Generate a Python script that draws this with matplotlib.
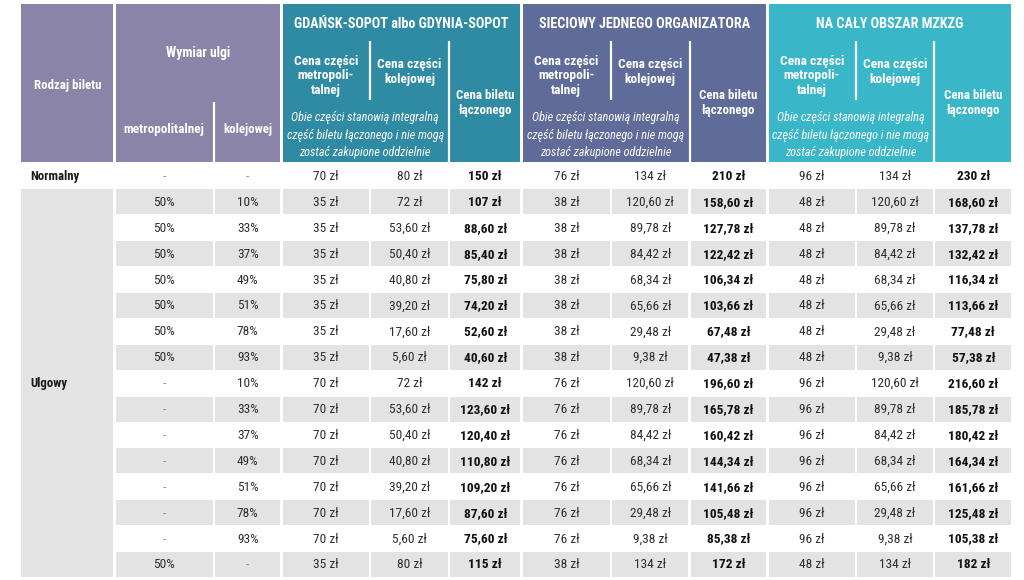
import matplotlib
matplotlib.use("Agg")
import matplotlib.pyplot as plt
from matplotlib.patches import Rectangle
import matplotlib.font_manager as fm

# ---------------- data ----------------
ticket_types = ["Normalny", "Ulgowy"]
relief_metro = ["-"] + ["50%"] * 7 + ["-"] * 7 + ["50%"]
relief_rail = ["-", "10%", "33%", "37%", "49%", "51%", "78%", "93%",
               "10%", "33%", "37%", "49%", "51%", "78%", "93%", "-"]

gs_metro = [70] + [35] * 7 + [70] * 7 + [35]
gs_rail = [80, 72, 53.60, 50.40, 40.80, 39.20, 17.60, 5.60,
           72, 53.60, 50.40, 40.80, 39.20, 17.60, 5.60, 80]
gs_total = [150, 107, 88.60, 85.40, 75.80, 74.20, 52.60, 40.60,
            142, 123.60, 120.40, 110.80, 109.20, 87.60, 75.60, 115]

sjo_metro = [76] + [38] * 7 + [76] * 7 + [38]
sjo_rail = [134, 120.60, 89.78, 84.42, 68.34, 65.66, 29.48, 9.38,
            120.60, 89.78, 84.42, 68.34, 65.66, 29.48, 9.38, 134]
sjo_total = [210, 158.60, 127.78, 122.42, 106.34, 103.66, 67.48, 47.38,
             196.60, 165.78, 160.42, 144.34, 141.66, 105.48, 85.38, 172]

mz_metro = [96] + [48] * 7 + [96] * 7 + [48]
mz_rail = [134, 120.60, 89.78, 84.42, 68.34, 65.66, 29.48, 9.38,
           120.60, 89.78, 84.42, 68.34, 65.66, 29.48, 9.38, 134]
mz_total = [230, 168.60, 137.78, 132.42, 116.34, 113.66, 77.48, 57.38,
            216.60, 185.78, 180.42, 164.34, 161.66, 125.48, 105.38, 182]

group_titles = ["GDAŃSK-SOPOT albo GDYNIA-SOPOT", "SIECIOWY JEDNEGO ORGANIZATORA", "NA CAŁY OBSZAR MZKZG"]
hdr_type = "Rodzaj biletu"
hdr_relief = "Wymiar ulgi"
hdr_relief_sub = ["metropolitalnej", "kolejowej"]
hdr_metro_part = "Cena części\nmetropoli-\ntalnej"
hdr_rail_part = "Cena części\nkolejowej"
hdr_total = "Cena biletu\nłączonego"
hdr_note = "Obie części stanowią integralną\nczęść biletu łączonego i nie mogą\nzostać zakupione oddzielnie"

# ---------------- fonts ----------------
names = {f.name for f in fm.fontManager.ttflist}
stretch = "normal"
if "Liberation Sans Narrow" in names:
    FONT = "Liberation Sans Narrow"
elif "Roboto Condensed" in names:
    FONT = "Roboto Condensed"
elif any(f.name == "DejaVu Sans" and f.stretch == "condensed" for f in fm.fontManager.ttflist):
    FONT = "DejaVu Sans"
    stretch = "condensed"
else:
    FONT = "Roboto"
plt.rcParams["font.family"] = [FONT, "DejaVu Sans"]
plt.rcParams["font.stretch"] = stretch

# ---------------- layout ----------------
W, H = 1024, 580
col_edges = [21, 114.5, 214, 281.5, 370, 449, 521.5, 611, 689.5, 767.5, 856, 934, 1012.5]
hdr_top, hdr_bot = 4, 161.5
row_top = 163
row_h = 25.9
gap = 1.2

c_left = "#8a84a8"
c_groups = ["#2e8ba3", "#5f6b98", "#3ab6c9"]
c_gray = "#e3e3e3"
c_text = "#2e2e2e"
c_dash = "#8f8f8f"

fig = plt.figure(figsize=(W / 100, H / 100), dpi=100)
ax = fig.add_axes([0, 0, 1, 1])
ax.set_xlim(0, W)
ax.set_ylim(H, 0)
ax.axis("off")


def rect(x0, x1, y0, y1, color):
    ax.add_patch(Rectangle((x0, y0), x1 - x0, y1 - y0, facecolor=color, edgecolor="none", zorder=1))


def txt(x, y, s, size=8.3, weight="normal", style="normal", color="white", ha="center", ls=1.15):
    ax.text(x, y, s, fontsize=size, fontweight=weight, fontstyle=style, color=color,
            ha=ha, va="center", linespacing=ls, zorder=3)


def vline(x, y0, y1):
    ax.plot([x, x], [y0, y1], color="white", lw=1.6, zorder=2, solid_capstyle="butt")


# ---------------- header ----------------
e = col_edges
rect(e[0], e[1] - gap, hdr_top, hdr_bot, c_left)
rect(e[1] + gap, e[3] - gap, hdr_top, hdr_bot, c_left)
vline(e[2], 102, hdr_bot)
txt((e[0] + e[1]) / 2, 85, hdr_type, size=9.3, weight="bold")
txt((e[1] + e[3]) / 2, 53, hdr_relief, size=9.8, weight="bold")
txt((e[1] + e[2]) / 2, 130, hdr_relief_sub[0], size=9.5, weight="bold")
txt((e[2] + e[3]) / 2, 130, hdr_relief_sub[1], size=9.2, weight="bold")

for g in range(3):
    a, b, c, d = e[3 + 3 * g], e[4 + 3 * g], e[5 + 3 * g], e[6 + 3 * g]
    rect(a + gap, d - gap, hdr_top, hdr_bot, c_groups[g])
    vline(b, 41, 100)
    vline(c, 41, hdr_bot)
    txt((a + d) / 2, 24, group_titles[g], size=10.2, weight="bold")
    txt((a + b) / 2, 76, hdr_metro_part, size=9.6, weight="bold", ls=1.15)
    txt((b + c) / 2, 72, hdr_rail_part, size=9.6, weight="bold", ls=1.2)
    txt((c + d) / 2, 103, hdr_total, size=9.3, weight="bold", ls=1.25)
    txt((a + c) / 2, 135, hdr_note, size=8.7, style="italic", ls=1.45)


# ---------------- body ----------------
def money(v):
    if abs(v - round(v)) < 1e-9:
        return f"{int(round(v))} zł"
    return f"{v:.2f}".replace(".", ",") + " zł"


n = len(relief_rail)
cols = [relief_metro, relief_rail,
        [money(v) for v in gs_metro], [money(v) for v in gs_rail], [money(v) for v in gs_total],
        [money(v) for v in sjo_metro], [money(v) for v in sjo_rail], [money(v) for v in sjo_total],
        [money(v) for v in mz_metro], [money(v) for v in mz_rail], [money(v) for v in mz_total]]
bold_cols = {4, 7, 10}

# merged "Ulgowy" cell
rect(e[0], e[1] - gap, row_top + row_h + 0.5, row_top + n * row_h - 0.5, c_gray)
txt(30, row_top + row_h / 2 + 1, ticket_types[0], size=9.2, weight="bold", color="#1a1a1a", ha="left")
txt(30, (row_top + row_h + row_top + n * row_h) / 2, ticket_types[1], size=9.2, weight="bold",
    color="#1a1a1a", ha="left")

for i in range(n):
    y0 = row_top + i * row_h
    yc = y0 + row_h / 2 + 0.5
    for j, col in enumerate(cols):
        x0, x1 = e[j + 1], e[j + 2]
        if i % 2 == 1:
            rect(x0 + gap, x1 - gap, y0 + 0.5, y0 + row_h - 0.5, c_gray)
        s = col[i]
        is_bold = j in bold_cols
        color = c_dash if s == "-" else ("#111111" if is_bold else c_text)
        txt((x0 + x1) / 2, yc, s, size=9.6, weight="bold" if is_bold else "normal", color=color)

fig.savefig("out.png", dpi=100)
